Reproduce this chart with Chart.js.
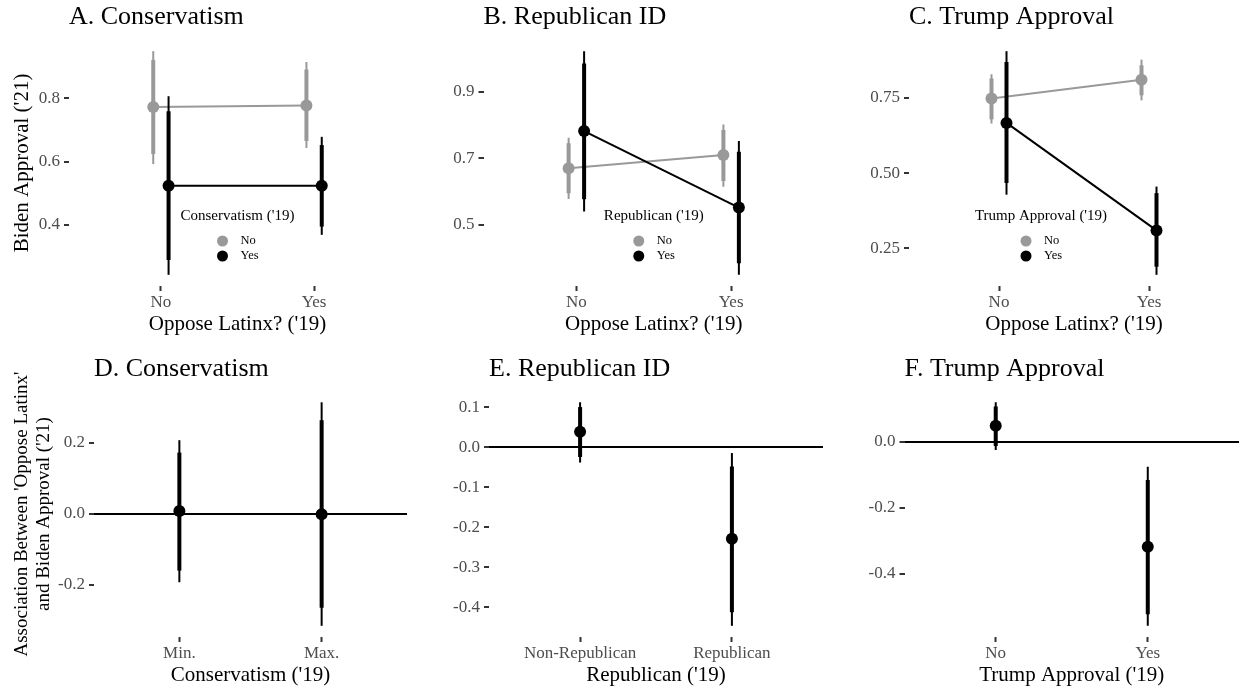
<!DOCTYPE html>
<html lang="en">

<head>
    <meta charset="UTF-8">
    <title>Oppose Latinx and Biden Approval</title>
    <script src="https://cdn.jsdelivr.net/npm/chart.js"></script>
    <style>
        body {
            margin: 0;
            background: #fff;
            width: 1239px;
            height: 692px;
            position: relative;
            overflow: hidden;
        }

        .panel {
            position: absolute;
        }

        .panel canvas {
            display: block;
        }
    </style>
</head>

<body>
    <div class="panel" style="left:0;top:0"><canvas id="panelA" width="413" height="340"></canvas></div>
    <div class="panel" style="left:413px;top:0"><canvas id="panelB" width="413" height="340"></canvas></div>
    <div class="panel" style="left:826px;top:0"><canvas id="panelC" width="413" height="340"></canvas></div>
    <div class="panel" style="left:0;top:340px"><canvas id="panelD" width="413" height="352"></canvas></div>
    <div class="panel" style="left:413px;top:340px"><canvas id="panelE" width="413" height="352"></canvas></div>
    <div class="panel" style="left:826px;top:340px"><canvas id="panelF" width="413" height="352"></canvas></div>

    <script>
        // x categories
        const opposeCats = ['No', 'Yes'];
        const consCats = ['Min.', 'Max.'];
        const repCats = ['Non-Republican', 'Republican'];
        const trumpCats = ['No', 'Yes'];
        const groupNames = ['No', 'Yes'];

        // y tick labels
        const ticksA = ['0.4', '0.6', '0.8'];
        const ticksB = ['0.5', '0.7', '0.9'];
        const ticksC = ['0.25', '0.50', '0.75'];
        const ticksD = ['-0.2', '0.0', '0.2'];
        const ticksE = ['-0.4', '-0.3', '-0.2', '-0.1', '0.0', '0.1'];
        const ticksF = ['-0.4', '-0.2', '0.0'];

        // A. Biden approval by conservatism ('19), estimate + inner/outer intervals
        const consNoEst = [0.772, 0.777];
        const consNoThick = [[0.624, 0.920], [0.665, 0.890]];
        const consNoThin = [[0.592, 0.948], [0.643, 0.914]];
        const consYesEst = [0.524, 0.524];
        const consYesThick = [[0.290, 0.759], [0.395, 0.652]];
        const consYesThin = [[0.243, 0.806], [0.369, 0.678]];

        // B. by Republican ID ('19)
        const repNoEst = [0.670, 0.710];
        const repNoThick = [[0.595, 0.745], [0.632, 0.785]];
        const repNoThin = [[0.578, 0.762], [0.615, 0.802]];
        const repYesEst = [0.782, 0.552];
        const repYesThick = [[0.577, 0.985], [0.385, 0.720]];
        const repYesThin = [[0.540, 1.022], [0.350, 0.752]];

        // C. by Trump approval ('19)
        const trumpNoEst = [0.748, 0.811];
        const trumpNoThick = [[0.679, 0.815], [0.759, 0.859]];
        const trumpNoThin = [[0.665, 0.829], [0.742, 0.878]];
        const trumpYesEst = [0.667, 0.309];
        const trumpYesThick = [[0.467, 0.870], [0.188, 0.433]];
        const trumpYesThin = [[0.428, 0.906], [0.161, 0.455]];

        // D-F. association between 'oppose Latinx' and Biden approval
        const consDiffEst = [0.008, -0.001];
        const consDiffThick = [[-0.160, 0.173], [-0.265, 0.264]];
        const consDiffThin = [[-0.193, 0.208], [-0.316, 0.315]];
        const repDiffEst = [0.039, -0.229];
        const repDiffThick = [[-0.024, 0.101], [-0.413, -0.048]];
        const repDiffThin = [[-0.038, 0.113], [-0.447, -0.014]];
        const trumpDiffEst = [0.048, -0.318];
        const trumpDiffThick = [[-0.013, 0.106], [-0.522, -0.116]];
        const trumpDiffThin = [[-0.025, 0.119], [-0.557, -0.076]];

        const FONT = "'Liberation Serif', 'Times New Roman', serif";
        const GREY = '#999999';
        const BLACK = '#000000';
        const DODGE = 0.05;

        // legend drawn inside the plot area (title + two dot keys)
        const groupLegend = {
            id: 'groupLegend',
            afterDatasetsDraw(chart, args, opts) {
                if (!opts.title) return;
                const { ctx, chartArea: a } = chart;
                const cx = a.left + a.width * opts.center;
                ctx.save();
                ctx.textBaseline = 'middle';
                ctx.textAlign = 'center';
                ctx.fillStyle = '#000';
                ctx.font = '15px ' + FONT;
                ctx.fillText(opts.title, cx, a.top + 176);
                ctx.textAlign = 'left';
                ctx.font = '12.5px ' + FONT;
                groupNames.forEach((name, i) => {
                    const y = a.top + 201 + i * 15;
                    ctx.fillStyle = opts.colors[i];
                    ctx.beginPath();
                    ctx.arc(cx - 15, y, 5.5, 0, Math.PI * 2);
                    ctx.fill();
                    ctx.fillStyle = '#000';
                    ctx.fillText(name, cx + 3, y);
                });
                ctx.restore();
            }
        };

        function barSet(x, lo, hi, color, width, order) {
            return {
                data: [{ x: x, y: lo }, { x: x, y: hi }],
                showLine: true,
                borderColor: color,
                borderWidth: width,
                borderCapStyle: 'butt',
                pointRadius: 0,
                order: order
            };
        }

        // one group: thin + thick interval bars, then estimate points (and joining line)
        function groupSets(est, thin, thick, shift, color, joined, order) {
            const sets = [];
            est.forEach((v, i) => {
                const x = i + 1 + shift;
                sets.push(barSet(x, thin[i][0], thin[i][1], color, 2, order + 1));
                sets.push(barSet(x, thick[i][0], thick[i][1], color, 4, order + 1));
            });
            sets.push({
                data: est.map((v, i) => ({ x: i + 1 + shift, y: v })),
                showLine: joined,
                borderColor: color,
                borderWidth: 2,
                pointRadius: 6,
                pointBackgroundColor: color,
                pointBorderWidth: 0,
                order: order
            });
            return sets;
        }

        function yRange(groups) {
            let lo = Infinity, hi = -Infinity;
            groups.forEach(g => g.thin.forEach(r => { lo = Math.min(lo, r[0]); hi = Math.max(hi, r[1]); }));
            const pad = (hi - lo) * 0.05;
            return [lo - pad, hi + pad];
        }

        const rows = [
            { top: 0, padTop: 0, xAxisH: 54, xTitlePad: 3 },
            { top: 340, padTop: 11.1, xAxisH: 55, xTitlePad: 4 }
        ];

        function drawPanel(id, p) {
            const row = rows[p.row];
            const colLeft = p.col * 413;
            const [ymin, ymax] = yRange(p.groups);
            let datasets = [];
            p.groups.forEach((g, k) => {
                datasets = datasets.concat(groupSets(g.est, g.thin, g.thick, g.shift, g.color, g.joined, 10 - 3 * k));
            });
            const yTitle = p.yTitle ? {
                display: true,
                text: p.yTitle,
                color: '#000',
                font: { family: FONT, size: p.yTitleSize || 21, lineHeight: p.yTitleLH || 1.2 },
                padding: { top: p.yTitlePad || 9.4, bottom: 0 }
            } : { display: false };

            new Chart(document.getElementById(id), {
                type: 'scatter',
                data: { datasets: datasets },
                plugins: [groupLegend],
                options: {
                    responsive: false,
                    animation: false,
                    events: [],
                    layout: {
                        autoPadding: false,
                        padding: { top: row.padTop, left: 0, bottom: 0, right: colLeft + 413 - p.right }
                    },
                    plugins: {
                        legend: { display: false },
                        tooltip: { enabled: false },
                        title: {
                            display: true,
                            text: p.title,
                            align: 'start',
                            fullSize: false,
                            color: '#000',
                            font: { family: FONT, size: 26, weight: 'normal' },
                            padding: { top: 2, bottom: 6.8 }
                        },
                        groupLegend: p.legend || {}
                    },
                    scales: {
                        x: {
                            type: 'linear',
                            min: 0.4,
                            max: 2.6,
                            afterBuildTicks: s => { s.ticks = p.cats.map((c, i) => ({ value: i + 1 })); },
                            afterFit: s => { s.height = row.xAxisH; },
                            ticks: {
                                callback: v => p.cats[v - 1],
                                color: '#4d4d4d',
                                font: { family: FONT, size: 17 },
                                padding: 1,
                                maxRotation: 0,
                                autoSkip: false
                            },
                            grid: { drawOnChartArea: false, tickLength: 5, tickWidth: 2, tickColor: '#333' },
                            border: { display: false },
                            title: {
                                display: true,
                                text: p.xTitle,
                                color: '#000',
                                font: { family: FONT, size: 21 },
                                padding: { top: 0, bottom: row.xTitlePad }
                            }
                        },
                        y: {
                            type: 'linear',
                            min: ymin,
                            max: ymax,
                            afterBuildTicks: s => { s.ticks = p.ticks.map(t => ({ value: parseFloat(t) })); },
                            afterFit: s => { s.width = p.left - colLeft; },
                            ticks: {
                                callback: v => p.ticks.find(t => Math.abs(parseFloat(t) - v) < 1e-9),
                                color: '#4d4d4d',
                                font: { family: FONT, size: 17 },
                                padding: 4,
                                autoSkip: false
                            },
                            grid: {
                                drawOnChartArea: !!p.zeroLine,
                                color: c => (c.tick && c.tick.value === 0) ? '#000' : 'rgba(0,0,0,0)',
                                lineWidth: 2,
                                tickLength: 5,
                                tickWidth: 2,
                                tickColor: '#333'
                            },
                            border: { display: false },
                            title: yTitle
                        }
                    }
                }
            });
        }

        drawPanel('panelA', {
            row: 0, col: 0, left: 69, right: 406,
            title: 'A. Conservatism', cats: opposeCats, ticks: ticksA,
            xTitle: "Oppose Latinx? ('19)", yTitle: "Biden Approval ('21)",
            legend: { title: "Conservatism ('19)", center: 0.5, colors: [GREY, BLACK] },
            groups: [
                { est: consNoEst, thin: consNoThin, thick: consNoThick, shift: -DODGE, color: GREY, joined: true },
                { est: consYesEst, thin: consYesThin, thick: consYesThick, shift: DODGE, color: BLACK, joined: true }
            ]
        });

        drawPanel('panelB', {
            row: 0, col: 1, left: 483.5, right: 824,
            title: 'B. Republican ID', cats: opposeCats, ticks: ticksB,
            xTitle: "Oppose Latinx? ('19)",
            legend: { title: "Republican ('19)", center: 0.5, colors: [GREY, BLACK] },
            groups: [
                { est: repNoEst, thin: repNoThin, thick: repNoThick, shift: -DODGE, color: GREY, joined: true },
                { est: repYesEst, thin: repYesThin, thick: repYesThick, shift: DODGE, color: BLACK, joined: true }
            ]
        });

        drawPanel('panelC', {
            row: 0, col: 2, left: 909, right: 1239,
            title: 'C. Trump Approval', cats: opposeCats, ticks: ticksC,
            xTitle: "Oppose Latinx? ('19)",
            legend: { title: "Trump Approval ('19)", center: 0.4, colors: [GREY, BLACK] },
            groups: [
                { est: trumpNoEst, thin: trumpNoThin, thick: trumpNoThick, shift: -DODGE, color: GREY, joined: true },
                { est: trumpYesEst, thin: trumpYesThin, thick: trumpYesThick, shift: DODGE, color: BLACK, joined: true }
            ]
        });

        drawPanel('panelD', {
            row: 1, col: 0, left: 94, right: 407, zeroLine: true,
            title: 'D. Conservatism', cats: consCats, ticks: ticksD,
            xTitle: "Conservatism ('19)",
            yTitle: ["Association Between 'Oppose Latinx'", "and Biden Approval ('21)"],
            yTitleSize: 19, yTitleLH: 1.14, yTitlePad: 11.5,
            groups: [
                { est: consDiffEst, thin: consDiffThin, thick: consDiffThick, shift: 0, color: BLACK, joined: false }
            ]
        });

        drawPanel('panelE', {
            row: 1, col: 1, left: 489, right: 823, zeroLine: true,
            title: 'E. Republican ID', cats: repCats, ticks: ticksE,
            xTitle: "Republican ('19)",
            groups: [
                { est: repDiffEst, thin: repDiffThin, thick: repDiffThick, shift: 0, color: BLACK, joined: false }
            ]
        });

        drawPanel('panelF', {
            row: 1, col: 2, left: 904.5, right: 1239, zeroLine: true,
            title: 'F. Trump Approval', cats: trumpCats, ticks: ticksF,
            xTitle: "Trump Approval ('19)",
            groups: [
                { est: trumpDiffEst, thin: trumpDiffThin, thick: trumpDiffThick, shift: 0, color: BLACK, joined: false }
            ]
        });
    </script>
</body>

</html>
